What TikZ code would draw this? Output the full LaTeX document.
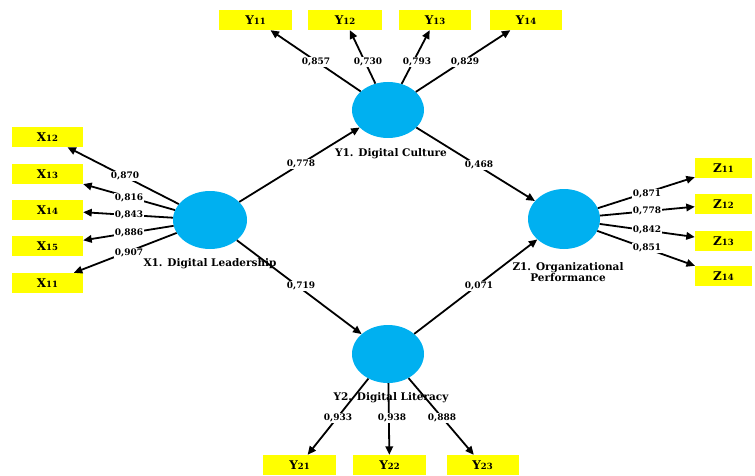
\documentclass[tikz,border=0pt]{standalone}
\usepackage{fontspec}
\setmainfont{DejaVu Serif}
\usetikzlibrary{shapes.geometric,arrows.meta}
\definecolor{latcol}{HTML}{00B0F0}
\definecolor{indcol}{HTML}{FFFF00}
\newcommand\indl[2]{#1{\fontsize{8.5}{8.5}\selectfont #2}}
\tikzset{
  lat/.style={ellipse, fill=latcol, inner sep=0pt},
  indbox/.style={fill=indcol, minimum height=20pt, inner sep=0pt, font=\bfseries\fontsize{12}{12}\selectfont},
  wt/.style={fill=white, inner sep=0.6pt, font=\bfseries\fontsize{9}{9}\selectfont},
  nm/.style={inner sep=0pt, align=center, font=\bfseries\fontsize{10.5}{11}\selectfont},
  arr/.style={-{Triangle[length=8.5pt,width=7.5pt]}, line width=1.8pt}
}
\begin{document}
\begin{tikzpicture}[x=1pt,y=-1pt]
\useasboundingbox (0,0) rectangle (755,476);
% latent variables
\node[lat, minimum width=74pt, minimum height=58pt] (X1) at (210,220) {};
\node[lat, minimum width=72pt, minimum height=56pt] (Y1) at (388,110) {};
\node[lat, minimum width=72pt, minimum height=60pt] (Z1) at (564,219) {};
\node[lat, minimum width=72pt, minimum height=58pt] (Y2) at (388,354) {};
% indicators
\node[indbox, minimum width=71pt] (X12) at (47.5,137) {\indl{X}{12}};
\node[indbox, minimum width=71pt] (X13) at (47.5,174) {\indl{X}{13}};
\node[indbox, minimum width=71pt] (X14) at (47.5,210) {\indl{X}{14}};
\node[indbox, minimum width=71pt] (X15) at (47.5,246) {\indl{X}{15}};
\node[indbox, minimum width=71pt] (X11) at (47.5,283) {\indl{X}{11}};
\node[indbox, minimum width=73pt] (Y11) at (255.5,20) {\indl{Y}{11}};
\node[indbox, minimum width=74pt] (Y12) at (345,20) {\indl{Y}{12}};
\node[indbox, minimum width=72pt] (Y13) at (435,20) {\indl{Y}{13}};
\node[indbox, minimum width=72pt] (Y14) at (526,20) {\indl{Y}{14}};
\node[indbox, minimum width=57pt] (Z11) at (723.5,168) {\indl{Z}{11}};
\node[indbox, minimum width=57pt] (Z12) at (723.5,204) {\indl{Z}{12}};
\node[indbox, minimum width=57pt] (Z13) at (723.5,241) {\indl{Z}{13}};
\node[indbox, minimum width=57pt] (Z14) at (723.5,276) {\indl{Z}{14}};
\node[indbox, minimum width=73pt] (Y21) at (299.5,465) {\indl{Y}{21}};
\node[indbox, minimum width=73pt] (Y22) at (389.5,465) {\indl{Y}{22}};
\node[indbox, minimum width=72pt] (Y23) at (482.5,465) {\indl{Y}{23}};
% connectors
\foreach \t in {X12,X13,X14,X15,X11} \draw[arr] (X1) -- (\t);
\foreach \t in {Y11,Y12,Y13,Y14} \draw[arr] (Y1) -- (\t);
\foreach \t in {Z11,Z12,Z13,Z14} \draw[arr] (Z1) -- (\t);
\foreach \t in {Y21,Y22,Y23} \draw[arr] (Y2) -- (\t);
\draw[arr] (X1) -- (Y1);
\draw[arr] (X1) -- (Y2);
\draw[arr] (Y1) -- (Z1);
\draw[arr] (Y2) -- (Z1);
% weights
\node[wt] (w1) at (301,164) {0,778};
\node[wt] (w2) at (479,165) {0,468};
\node[wt] (w3) at (301,286) {0,719};
\node[wt] (w4) at (479,286) {0,071};
\node[wt] (wx12) at (125,176) {0,870};
\node[wt] (wx13) at (129,198) {0,816};
\node[wt] (wx14) at (129,215) {0,843};
\node[wt] (wx15) at (129,233) {0,886};
\node[wt] (wx11) at (129,253) {0,907};
\node[wt] (wy11) at (316,62) {0,857};
\node[wt] (wy12) at (368,62) {0,730};
\node[wt] (wy13) at (417,62) {0,793};
\node[wt] (wy14) at (465,62) {0,829};
\node[wt] (wz11) at (647,194) {0,871};
\node[wt] (wz12) at (647,211) {0,778};
\node[wt] (wz13) at (647,230) {0,842};
\node[wt] (wz14) at (647,248) {0,851};
\node[wt] (wy21) at (338,418) {0,933};
\node[wt] (wy22) at (392,418) {0,938};
\node[wt] (wy23) at (442,418) {0,888};
% names
\node[nm] (nX1) at (210,264) {X1. Digital Leadership};
\node[nm] (nY1) at (391,154) {Y1. Digital Culture};
\node[nm] (nY2) at (391,398) {Y2. Digital Literacy};
\node[nm] (nZ1) at (568,272) {Z1. Organizational\\Performance};
\end{tikzpicture}
\end{document}
